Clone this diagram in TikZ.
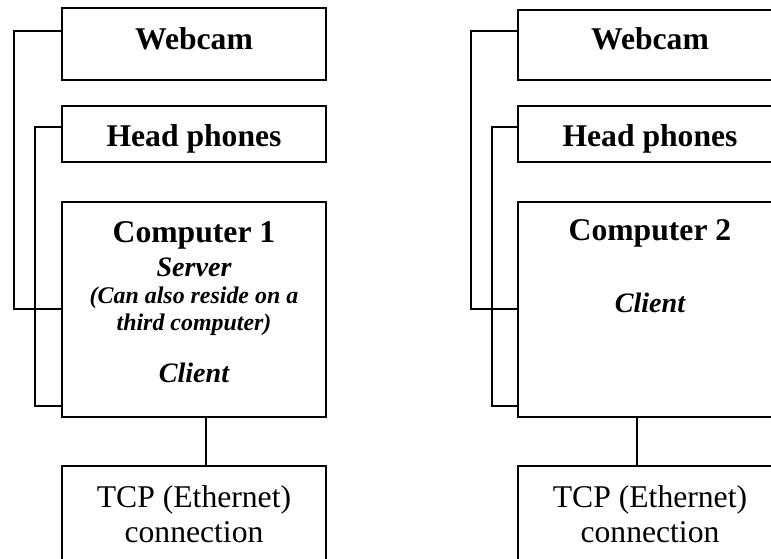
\documentclass[tikz,border=0pt]{standalone}
\usepackage{fontspec}
\setmainfont{Liberation Serif}
\usetikzlibrary{positioning}

\tikzset{
	box/.style={draw, line width=1.2pt, minimum width=6.6cm, inner sep=0pt, outer sep=0pt},
	title/.style={font=\fontsize{22.5}{26}\selectfont\bfseries, anchor=base},
	role/.style={font=\fontsize{20}{24}\selectfont\bfseries\itshape, anchor=base},
	note/.style={font=\fontsize{17}{20}\selectfont\bfseries\itshape, anchor=base},
	plain/.style={font=\fontsize{22.5}{26}\selectfont, anchor=base},
	wire/.style={line width=1.2pt}
}

\begin{document}
\begin{tikzpicture}[x=0.025cm, y=-0.025cm]
	\useasboundingbox (0,0) rectangle (771,559);
	\clip (0,0) rectangle (771,559);

	\node[box, minimum height=1.8cm, anchor=north] (cam1) at (194,8) {};
	\node[box, minimum height=1.4cm, below=0.65cm of cam1] (hp1) {};
	\node[box, minimum height=5.375cm, below=1cm of hp1] (comp1) {};
	\node[box, minimum height=3cm, below=1.225cm of comp1] (tcp1) {};

	\node[box, minimum height=1.75cm, anchor=north] (cam2) at (650,10) {};
	\node[box, minimum height=1.4cm, below=0.65cm of cam2] (hp2) {};
	\node[box, minimum height=5.375cm, below=1cm of hp2] (comp2) {};
	\node[box, minimum height=3cm, below=1.225cm of comp2] (tcp2) {};

	\node[title] (cam1t) at ([yshift=-1.025cm]cam1.north) {Webcam};
	\node[title] (hp1t) at ([yshift=-1cm]hp1.north) {Head phones};
	\node[title] (comp1t) at ([yshift=-1cm]comp1.north) {Computer 1};
	\node[role] (comp1s) at ([yshift=-1.85cm]comp1.north) {Server};
	\node[note] (comp1n) at ([yshift=-2.525cm]comp1.north) {(Can also reside on a};
	\node[note] (comp1m) at ([yshift=-3.2cm]comp1.north) {third computer)};
	\node[role] (comp1c) at ([yshift=-4.5cm]comp1.north) {Client};
	\node[plain] (tcp1t) at ([yshift=-1.025cm]tcp1.north) {TCP (Ethernet)};
	\node[plain] (tcp1c) at ([yshift=-1.9cm]tcp1.north) {connection};

	\node[title] (cam2t) at ([yshift=-0.975cm]cam2.north) {Webcam};
	\node[title] (hp2t) at ([yshift=-1cm]hp2.north) {Head phones};
	\node[title] (comp2t) at ([yshift=-0.95cm]comp2.north) {Computer 2};
	\node[role] (comp2c) at ([yshift=-2.75cm]comp2.north) {Client};
	\node[plain] (tcp2t) at ([yshift=-1.025cm]tcp2.north) {TCP (Ethernet)};
	\node[plain] (tcp2c) at ([yshift=-1.9cm]tcp2.north) {connection};

	\coordinate (cam1w) at ([yshift=-0.575cm]cam1.north west);
	\coordinate (hp1w) at ([yshift=-0.525cm]hp1.north west);
	\coordinate (comp1a) at ([yshift=-2.675cm]comp1.north west);
	\coordinate (comp1b) at ([yshift=-5.1cm]comp1.north west);
	\coordinate (cam2w) at ([yshift=-0.525cm]cam2.north west);
	\coordinate (hp2w) at ([yshift=-0.525cm]hp2.north west);
	\coordinate (comp2a) at ([yshift=-2.675cm]comp2.north west);
	\coordinate (comp2b) at ([yshift=-5.1cm]comp2.north west);

	\draw[wire] (cam1w) -- ++(-1.2cm,0) |- (comp1a);
	\draw[wire] (hp1w) -- ++(-0.675cm,0) |- (comp1b);
	\draw[wire] ([xshift=0.3cm]comp1.south) -- ([xshift=0.3cm]tcp1.north);

	\draw[wire] (cam2w) -- ++(-1.175cm,0) |- (comp2a);
	\draw[wire] (hp2w) -- ++(-0.65cm,0) |- (comp2b);
	\draw[wire] ([xshift=-0.325cm]comp2.south) -- ([xshift=-0.325cm]tcp2.north);
\end{tikzpicture}
\end{document}
